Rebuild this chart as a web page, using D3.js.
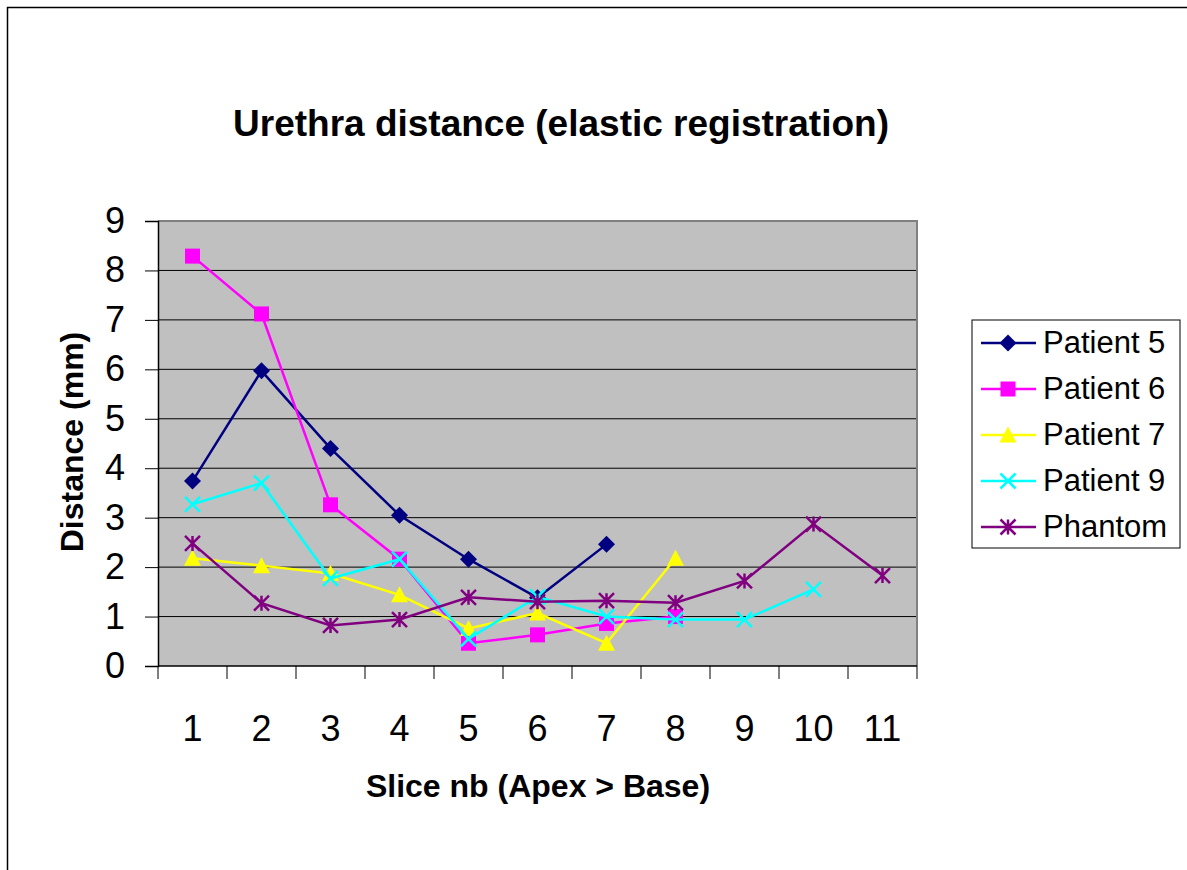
<!DOCTYPE html>
<html><head><meta charset="utf-8">
<script src="https://cdn.jsdelivr.net/npm/d3@7"></script>
<style>body{margin:0;background:#fff;} text{font-family:"Liberation Sans",Arial,sans-serif;}</style>
</head><body>
<svg id="c" width="1187" height="870"></svg>
<script>
const categories = [1,2,3,4,5,6,7,8,9,10,11];
const yTicks = [0,1,2,3,4,5,6,7,8,9];
const patient5 = [3.74,5.97,4.40,3.05,2.16,1.38,2.46];
const patient6 = [8.29,7.12,3.26,2.16,0.46,0.63,0.86,1.0];
const patient7 = [2.18,2.03,1.87,1.44,0.76,1.07,0.46,2.18];
const patient9 = [3.27,3.70,1.77,2.16,0.55,1.40,1.0,0.94,0.94,1.55];
const phantom  = [2.48,1.27,0.82,0.94,1.39,1.30,1.32,1.28,1.72,2.87,1.83];
const seriesNames = ["Patient 5","Patient 6","Patient 7","Patient 9","Phantom"];
const seriesColors = ["#000080","#FF00FF","#FFFF00","#00FFFF","#800080"];
const seriesShapes = ["diamond","square","triangle","x","star"];
const seriesData = [patient5,patient6,patient7,patient9,phantom];

const svg = d3.select("#c");
svg.append("path").attr("d","M7.5,880V7.5H1200").attr("fill","none").attr("stroke","#000").attr("stroke-width",1.5);

const L=158,R=917,T=221,B=666;
const x = d3.scaleBand().domain(categories).range([L,R]);
const y = d3.scaleLinear().domain([0,9]).range([B,T]);

svg.append("rect").attr("x",L).attr("y",T).attr("width",R-L).attr("height",B-T).attr("fill","#C0C0C0");
svg.append("g").selectAll("line").data(yTicks.filter(d=>d>0&&d<9)).join("line")
  .attr("x1",L).attr("x2",R).attr("y1",d=>y(d)).attr("y2",d=>y(d)).attr("stroke","#000").attr("stroke-width",1);
svg.append("path").attr("d",`M${L},${T}H${R}V${B}`).attr("fill","none").attr("stroke","#808080").attr("stroke-width",2);

const yAxis = d3.axisLeft(y).tickValues(yTicks).tickSize(13).tickPadding(20);
const gy = svg.append("g").attr("transform",`translate(${L},0)`).call(yAxis);
gy.select(".domain").attr("stroke","#000").attr("stroke-width",1.5);
gy.selectAll(".tick line").attr("stroke","#000").attr("stroke-width",1);
gy.selectAll(".tick text").attr("font-size",36).attr("font-family","Liberation Sans, Arial").attr("fill","#000");

const gx = svg.append("g").attr("transform",`translate(0,${B})`);
gx.append("line").attr("x1",L).attr("x2",R).attr("y1",0).attr("y2",0).attr("stroke","#000").attr("stroke-width",1.5);
const bounds = categories.map(c=>x(c)).concat([R]);
gx.selectAll("line.tk").data(bounds).join("line").attr("class","tk")
  .attr("x1",d=>d).attr("x2",d=>d).attr("y1",0).attr("y2",13).attr("stroke","#000").attr("stroke-width",1);
gx.selectAll("text").data(categories).join("text")
  .attr("x",d=>x(d)+x.bandwidth()/2).attr("y",75).attr("text-anchor","middle")
  .attr("font-size",36).text(d=>d);

svg.append("text").attr("x",561).attr("y",136).attr("text-anchor","middle").attr("font-weight","bold").attr("font-size",37).text("Urethra distance (elastic registration)");
svg.append("text").attr("x",538).attr("y",797).attr("text-anchor","middle").attr("font-weight","bold").attr("font-size",32).text("Slice nb (Apex > Base)");
svg.append("text").attr("transform","translate(83,442) rotate(-90)").attr("text-anchor","middle").attr("font-weight","bold").attr("font-size",32).text("Distance (mm)");

function marker(g, shape, color, cx, cy){
  const s=7.5;
  if(shape==="diamond") g.append("path").attr("d",`M${cx},${cy-s-1}L${cx+s+1},${cy}L${cx},${cy+s+1}L${cx-s-1},${cy}Z`).attr("fill",color);
  else if(shape==="square") g.append("rect").attr("x",cx-s).attr("y",cy-s).attr("width",2*s).attr("height",2*s).attr("fill",color);
  else if(shape==="triangle") g.append("path").attr("d",`M${cx},${cy-s-1}L${cx+s+1},${cy+s}L${cx-s-1},${cy+s}Z`).attr("fill",color);
  else if(shape==="x") g.append("path").attr("d",`M${cx-s},${cy-s}L${cx+s},${cy+s}M${cx-s},${cy+s}L${cx+s},${cy-s}`).attr("stroke",color).attr("stroke-width",2.5);
  else if(shape==="star") g.append("path").attr("d",`M${cx-s},${cy-s}L${cx+s},${cy+s}M${cx-s},${cy+s}L${cx+s},${cy-s}M${cx},${cy-s}V${cy+s}`).attr("stroke",color).attr("stroke-width",2.5);
}

const line = d3.line().x((d,i)=>x(categories[i])+x.bandwidth()/2).y(d=>y(d));
seriesData.forEach((data,k)=>{
  const g = svg.append("g");
  g.append("path").attr("d",line(data)).attr("fill","none").attr("stroke",seriesColors[k]).attr("stroke-width",2.5);
  data.forEach((v,i)=>marker(g,seriesShapes[k],seriesColors[k],x(categories[i])+x.bandwidth()/2,y(v)));
});

const lg = svg.append("g");
lg.append("rect").attr("x",972).attr("y",320).attr("width",208).attr("height",228).attr("fill","#fff").attr("stroke","#000").attr("stroke-width",1);
seriesNames.forEach((n,k)=>{
  const cy = 343 + k*46;
  lg.append("line").attr("x1",981).attr("x2",1036).attr("y1",cy).attr("y2",cy).attr("stroke",seriesColors[k]).attr("stroke-width",2.5);
  marker(lg,seriesShapes[k],seriesColors[k],1008,cy);
  lg.append("text").attr("x",1043).attr("y",cy+10).attr("font-size",31).text(n);
});
</script>
</body></html>
